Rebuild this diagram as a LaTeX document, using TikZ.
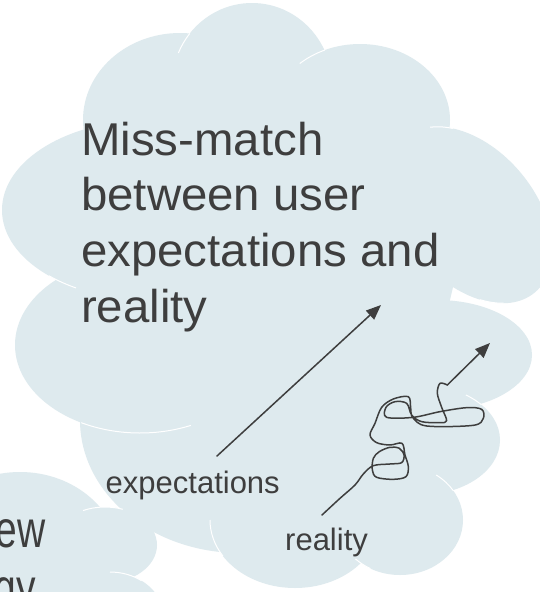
\documentclass[tikz,border=0pt]{standalone}
\usepackage{fontspec}
\setmainfont{Liberation Sans}
\newfontfamily\narrowfont[FakeStretch=0.75]{Liberation Sans}
\newfontfamily\widefont[FakeStretch=1.03]{Liberation Sans}
\usetikzlibrary{arrows.meta}
\definecolor{cloudblue}{RGB}{222,234,238}
\definecolor{inkgrey}{RGB}{62,62,62}
% one lobe of a cloud
\newcommand{\cloudlobe}[4]{
  \def \lx {#1}
  \def \ly {#2}
  \def \lrx {#3}
  \def \lry {#4}
  \fill[lobe] (\lx,\ly) ellipse[x radius=\lrx, y radius=\lry];
}
% white seam where a lobe runs into its neighbour
\newcommand{\lobeedge}[6]{
  \def \lx {#1}
  \def \ly {#2}
  \def \lrx {#3}
  \def \lry {#4}
  \def \lsa {#5}
  \def \lea {#6}
  \draw[lobeline] ({\lx+\lrx*cos(\lsa)},{\ly+\lry*sin(\lsa)})
    arc[start angle=\lsa, end angle=\lea, x radius=\lrx, y radius=\lry];
}
\begin{document}
\begin{tikzpicture}[x=1pt,y=-1pt,
    lobe/.style={fill=cloudblue},
    lobeline/.style={draw=white,line width=1pt},
    pen/.style={draw=inkgrey,line width=1.5pt,line cap=round,line join=round},
    tip/.style={-{Triangle[length=15pt,width=12pt]}},
    maintext/.style={font=\widefont\fontsize{46}{55.7}\selectfont,text=inkgrey,align=left,inner sep=0pt},
    labeltext/.style={font=\fontsize{31}{37}\selectfont,text=inkgrey,inner sep=0pt},
    sidetext/.style={font=\narrowfont\fontsize{52}{60}\selectfont,text=inkgrey,inner sep=0pt}]
    \fill[white] (0,0) rectangle (540,592);
    \useasboundingbox (0,0) rectangle (540,592);
   % main cloud
   %\cloudlobe{ x}{  y}{ rx}{ ry}
    \cloudlobe{180}{120}{97}{87}
    \cloudlobe{252}{85}{80}{82}
    \cloudlobe{360}{120}{90}{76}
    \fill[lobe,rotate around={-50:(470,215)}] (470,215) ellipse[x radius=101, y radius=66];
    \cloudlobe{437}{355}{95}{55}
    \cloudlobe{420}{440}{80}{55}
    \cloudlobe{400}{520}{63}{55}
    \cloudlobe{295}{520}{85}{68}
    \cloudlobe{240}{420}{160}{133}
    \cloudlobe{140}{345}{125}{88}
    \cloudlobe{150}{210}{148}{90}
    \fill[lobe] (180,120) -- (252,85) -- (360,120) -- (470,215) -- (437,355) -- (420,440)
      -- (400,520) -- (295,520) -- (240,420) -- (140,345) -- (150,210) -- cycle;
   %\lobeedge{ x}{  y}{ rx}{ ry}{from}{to}
    \lobeedge{252}{85}{80}{82}{203}{219}
    \lobeedge{360}{120}{90}{76}{228}{247}
    \begin{scope}[shift={(470,215)},rotate=-50]
      \lobeedge{0}{0}{101}{66}{203}{220}
      \lobeedge{0}{0}{101}{66}{28}{45}
    \end{scope}
    \lobeedge{420}{440}{80}{55}{305}{320}
    \lobeedge{400}{520}{63}{55}{305}{328}
    \lobeedge{400}{520}{63}{55}{118}{135}
    \lobeedge{295}{520}{85}{68}{148}{180}
    \lobeedge{140}{345}{125}{88}{66}{118}
    \lobeedge{150}{210}{148}{90}{120}{133}
   % second cloud, cut off at the corner
    \cloudlobe{20}{560}{100}{88}
    \cloudlobe{105}{545}{52}{38}
    \cloudlobe{110}{620}{55}{48}
    \lobeedge{105}{545}{52}{38}{245}{290}
    \lobeedge{110}{620}{55}{48}{270}{305}
   % texts (the base of a multi-line node is its last line)
    \node[maintext,anchor=base west] (mismatch) at (81,322.1)
      {Miss-match\\between user\\expectations and\\reality};
    \node[labeltext,anchor=base west] (expect) at (105.5,493) {expectations};
    \node[labeltext,anchor=base west] (real) at (285,550) {reality};
    \node[sidetext,anchor=base east] (sidetop) at (46,547) {ew};
    \node[sidetext,anchor=base east] (sidebottom) at (36,605) {gy};
   % expectations: straight line
    \coordinate (expstart) at (217,456);
    \coordinate (exptip) at (381,305);
    \draw[pen,tip] (expstart) -- (exptip);
   % reality: a tangled line
    \coordinate (realtip) at (490,343);
    \begin{scope}[shift={(340,320)},x=0.3333pt,y=-0.3333pt]
      \draw[pen] plot[smooth,tension=0.55] coordinates {
        (-54,585) (0,535) (45,495) (70,462) (100,437) (150,432) (185,428)
        (192,405) (178,385) (150,382) (118,395) (100,415) (97,450) (110,472)
        (160,478) (198,470) (205,440) (195,405) (186,370) (150,375) (110,368)
        (90,345) (105,310) (125,262) (160,237) (205,230) (212,262) (218,292)
        (260,318) (400,316) (430,295) (425,268) (380,263) (300,275) (220,292)
        (140,292) (138,262) (165,245) (200,250) (215,285) (245,305) (300,308)
        (320,302) (305,262) (292,220) (300,190) (322,195)} coordinate (realknot);
    \end{scope}
    \draw[pen,tip] (realknot) -- (realtip);
\end{tikzpicture}
\end{document}
